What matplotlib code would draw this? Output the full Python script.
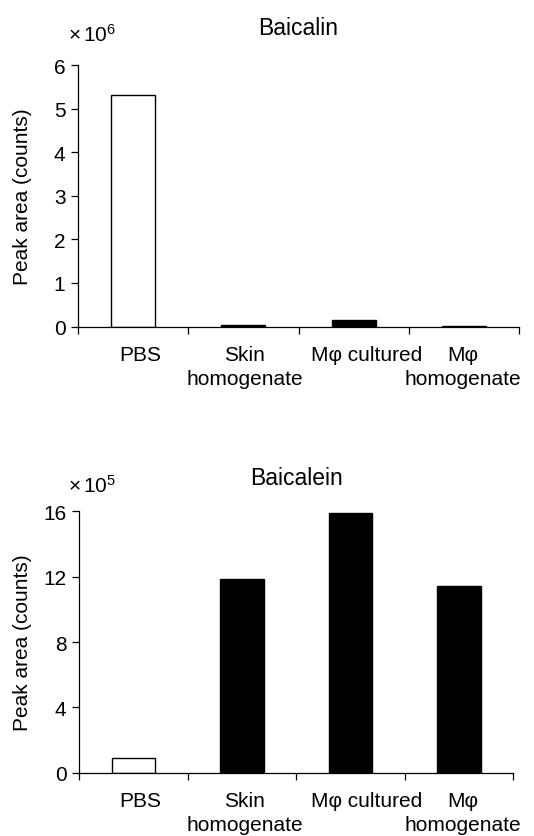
import matplotlib
matplotlib.use("Agg")
import matplotlib.pyplot as plt
import numpy as np

plt.rcParams['font.family'] = ['Liberation Sans', 'DejaVu Sans']
plt.rcParams['mathtext.fontset'] = 'custom'
plt.rcParams['mathtext.rm'] = 'Liberation Sans'
plt.rcParams['mathtext.it'] = 'Liberation Sans'

categories = ["PBS", "Skin\nhomogenate", "Mφ cultured", "Mφ\nhomogenate"]
baicalin = [5.32, 0.03, 0.16, 0.015]      # x 10^6
baicalein = [0.9, 11.85, 15.9, 11.45]     # x 10^5
colors = ["white", "black", "black", "black"]

fig = plt.figure(figsize=(5.34, 8.37), dpi=100)

def panel(rect, values, ylim, yticks, title, exp, title_pad, exp_pos, ylab_x, shifts_px):
    ax = fig.add_axes(rect)
    x = np.arange(len(values))
    ax.bar(x, values, width=0.4, color=colors, edgecolor="black", linewidth=1)
    ax.set_xlim(-0.5, len(values) - 0.5)
    ax.set_ylim(*ylim)
    ax.set_yticks(yticks)
    ax.spines['top'].set_visible(False)
    ax.spines['right'].set_visible(False)
    for s in ('left', 'bottom'):
        ax.spines[s].set_linewidth(0.9)
    ax.set_xticks(np.arange(-0.5, len(values)))
    ax.set_xticklabels([])
    ax.tick_params(axis='x', length=5, direction='out', width=0.9)
    # category labels, one text per line
    for i, (cat, dx) in enumerate(zip(categories, shifts_px)):
        for j, line in enumerate(cat.split("\n")):
            ax.annotate(line, xy=(x[i], 0), xycoords=('data', 'axes fraction'),
                        xytext=(dx * 0.72, -23.8 - 17.6 * j), textcoords='offset points',
                        ha='center', va='baseline', fontsize=15,
                        annotation_clip=False)
    ax.tick_params(axis='y', length=5, width=0.9, labelsize=15, pad=4)
    ax.set_ylabel("Peak area (counts)", fontsize=15)
    ax.yaxis.set_label_coords(ylab_x, 0.5)
    ax.set_title(title, fontsize=16.5, pad=title_pad)
    ax.text(exp_pos[0], exp_pos[1], r"$\times\,10^{%d}$" % exp, transform=ax.transAxes,
            fontsize=15, ha='left', va='center')
    return ax

panel([0.146, 0.6087, 0.826, 0.3124], baicalin, (0, 6), [0, 1, 2, 3, 4, 5, 6],
      "Baicalin", 6, 22, (-0.023, 1.119), -0.104, [7, 1, 13, -1])
panel([0.148, 0.0756, 0.813, 0.3123], baicalein, (0, 16), [0, 4, 8, 12, 16],
      "Baicalein", 5, 20, (-0.025, 1.103), -0.108, [6.5, 2.5, 16, 4])

fig.savefig("out.png", dpi=100)
